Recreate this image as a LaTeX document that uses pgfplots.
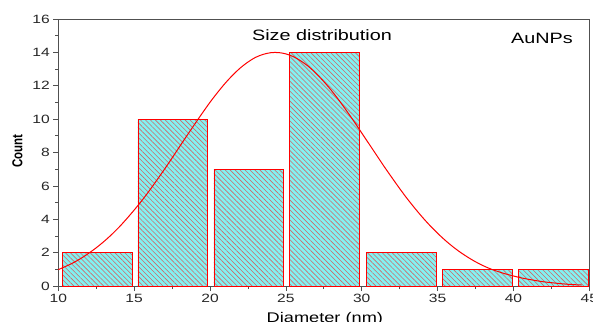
\documentclass[border=0pt]{standalone}
\usepackage{pgfplots}
\pgfplotsset{compat=1.18}
\usepackage{fontspec}
\setmainfont{Liberation Sans}
\usetikzlibrary{patterns.meta}
\definecolor{barfill}{RGB}{130,242,242}
\definecolor{hatch}{RGB}{205,105,105}
\definecolor{axgray}{RGB}{80,80,80}
\begin{document}
\begin{tikzpicture}
\begin{scope}
\clip (-58.3pt,-35pt) rectangle (534.7pt,286pt);
\begin{axis}[
  scale only axis,
  width=531pt, height=267pt,
  xmin=10, xmax=45, ymin=0, ymax=16,
  xtick={10,15,...,45}, ytick={0,2,...,16},
  minor x tick num=1, minor y tick num=1,
  tick align=outside,
  xtick pos=bottom, ytick pos=left,
  major tick length=5pt, minor tick length=3pt,
  axis line style={axgray, line width=0.8pt},
  every tick/.style={axgray, line width=0.7pt},
  /pgf/number format/assume math mode=true,
  xticklabel={\scalebox{1.3}[1]{\fontsize{12}{14}\selectfont\pgfmathprintnumber{\tick}}},
  yticklabel={\scalebox{1.3}[1]{\fontsize{12}{14}\selectfont\pgfmathprintnumber{\tick}}},
  ticklabel style={text=black!85},
  clip=false,
]
\addplot[ybar, bar width=4.6, draw=red, line width=0.6pt, fill=barfill,
  postaction={pattern={Lines[angle=-45, distance=3.5pt, line width=0.6pt]}, pattern color=hatch}]
  coordinates {(12.55,2) (17.55,10) (22.55,7) (27.55,14) (32.6,2) (37.6,1) (42.65,1)};
\addplot[red, line width=1pt, smooth] coordinates {
(10,0.98) (10.5,1.18) (11,1.40) (11.5,1.66) (12,1.96) (12.5,2.29) (13,2.66) (13.5,3.07)
(14,3.52) (14.5,4.02) (15,4.55) (15.5,5.11) (16,5.71) (16.5,6.35) (17,7.00) (17.5,7.67)
(18,8.36) (18.5,9.04) (19,9.71) (19.5,10.37) (20,11.01) (20.5,11.60) (21,12.15) (21.5,12.64)
(22,13.07) (22.5,13.42) (23,13.70) (23.5,13.88) (24,13.98) (24.5,13.99) (25,13.91) (25.5,13.74)
(26,13.48) (26.5,13.15) (27,12.73) (27.5,12.25) (28,11.72) (28.5,11.13) (29,10.50) (29.5,9.85)
(30,9.17) (30.5,8.49) (31,7.81) (31.5,7.13) (32,6.48) (32.5,5.84) (33,5.23) (33.5,4.66)
(34,4.12) (34.5,3.62) (35,3.16) (35.5,2.74) (36,2.36) (36.5,2.02) (37,1.72) (37.5,1.45)
(38,1.22) (38.5,1.02) (39,0.86) (39.5,0.72) (40,0.60) (40.5,0.49) (41,0.40) (41.5,0.32)
(42,0.25) (42.5,0.20) (43,0.15) (43.5,0.11) (44,0.08) (44.5,0.06)};
\node[anchor=base, inner sep=0pt] at (rel axis cs:0.4966,0.921)
  {\scalebox{1.32}[1]{\fontsize{15}{18}\selectfont Size distribution}};
\node[anchor=base, inner sep=0pt] at (rel axis cs:0.911,0.909)
  {\scalebox{1.32}[1]{\fontsize{15}{18}\selectfont AuNPs}};
\node[anchor=north, inner sep=0pt] at (rel axis cs:0.502,-0.097)
  {\scalebox{1.3}[1]{\fontsize{14}{17}\selectfont Diameter (nm)}};
\node[rotate=90, inner sep=0pt] at (rel axis cs:-0.0768,0.5056)
  {\scalebox{1}[1.25]{\fontsize{11.5}{14}\selectfont\bfseries Count}};
\end{axis}
\end{scope}
\pgfresetboundingbox
\path[use as bounding box] (-58.3pt,-35pt) rectangle (534.7pt,286pt);
\end{tikzpicture}
\end{document}
